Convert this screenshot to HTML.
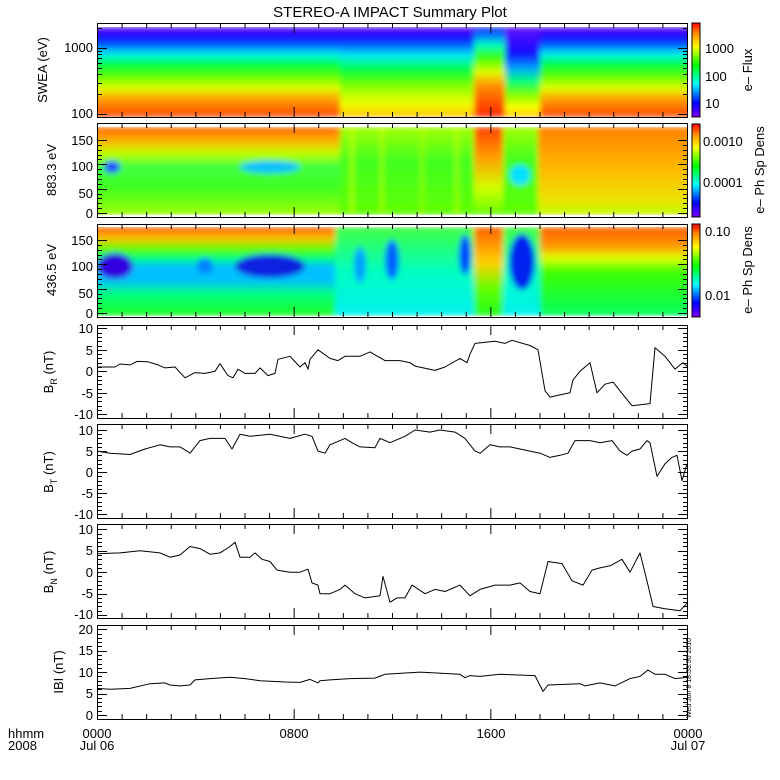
<!DOCTYPE html>
<html><head><meta charset="utf-8"><style>
html,body{margin:0;padding:0;background:#fff;}
svg{display:block;font-family:"Liberation Sans",sans-serif;}
text{font-size:13px;fill:#000;}
</style></head><body>
<svg id="s" width="780" height="780" viewBox="0 0 780 780" xmlns="http://www.w3.org/2000/svg">
<defs>
<linearGradient id="cb" x1="0" y1="1" x2="0" y2="0">
<stop offset="0" stop-color="#8000ff"/><stop offset="0.15" stop-color="#0000ff"/><stop offset="0.35" stop-color="#00ffff"/><stop offset="0.55" stop-color="#00ff00"/><stop offset="0.75" stop-color="#ffff00"/><stop offset="0.9" stop-color="#ff8000"/><stop offset="1" stop-color="#ff0000"/></linearGradient>
<linearGradient id="sw1" x1="0" y1="0" x2="0" y2="1">
<stop offset="0" stop-color="#6010ff"/><stop offset="0.12" stop-color="#1010ff"/><stop offset="0.2" stop-color="#0060ff"/><stop offset="0.3" stop-color="#00f0f0"/><stop offset="0.42" stop-color="#00ff40"/><stop offset="0.55" stop-color="#60ff00"/><stop offset="0.68" stop-color="#e0ff00"/><stop offset="0.8" stop-color="#ffa000"/><stop offset="1" stop-color="#ff4000"/></linearGradient>
<linearGradient id="sw2" x1="0" y1="0" x2="0" y2="1">
<stop offset="0" stop-color="#6010ff"/><stop offset="0.12" stop-color="#1010ff"/><stop offset="0.2" stop-color="#0060ff"/><stop offset="0.32" stop-color="#00f0f0"/><stop offset="0.48" stop-color="#00ff40"/><stop offset="0.65" stop-color="#80ff00"/><stop offset="0.85" stop-color="#f0ff00"/><stop offset="1" stop-color="#ffc000"/></linearGradient>
<linearGradient id="sw3" x1="0" y1="0" x2="0" y2="1">
<stop offset="0" stop-color="#2020ff"/><stop offset="0.1" stop-color="#0080ff"/><stop offset="0.2" stop-color="#00ffc0"/><stop offset="0.35" stop-color="#40ff00"/><stop offset="0.5" stop-color="#e0ff00"/><stop offset="0.65" stop-color="#ff9000"/><stop offset="1" stop-color="#ff2000"/></linearGradient>
<linearGradient id="sw4" x1="0" y1="0" x2="0" y2="1">
<stop offset="0" stop-color="#6010ff"/><stop offset="0.3" stop-color="#1010ff"/><stop offset="0.45" stop-color="#00a0ff"/><stop offset="0.6" stop-color="#00ff80"/><stop offset="0.75" stop-color="#80ff00"/><stop offset="0.9" stop-color="#ffff00"/><stop offset="1" stop-color="#ffc000"/></linearGradient>
<linearGradient id="p1" x1="0" y1="0" x2="0" y2="1">
<stop offset="0" stop-color="#ff6000"/><stop offset="0.15" stop-color="#ffb000"/><stop offset="0.3" stop-color="#c0ff00"/><stop offset="0.45" stop-color="#40ff40"/><stop offset="0.7" stop-color="#40ff20"/><stop offset="1" stop-color="#a0ff00"/></linearGradient>
<linearGradient id="p2" x1="0" y1="0" x2="0" y2="1">
<stop offset="0" stop-color="#a0ff00"/><stop offset="0.4" stop-color="#40ff20"/><stop offset="1" stop-color="#60ff00"/></linearGradient>
<linearGradient id="p3" x1="0" y1="0" x2="0" y2="1">
<stop offset="0" stop-color="#ff4000"/><stop offset="0.35" stop-color="#ffa000"/><stop offset="0.7" stop-color="#d0ff00"/><stop offset="1" stop-color="#60ff00"/></linearGradient>
<linearGradient id="p4" x1="0" y1="0" x2="0" y2="1">
<stop offset="0" stop-color="#ff8000"/><stop offset="0.4" stop-color="#ffb000"/><stop offset="0.8" stop-color="#f0e000"/><stop offset="1" stop-color="#c0ff00"/></linearGradient>
<linearGradient id="q1" x1="0" y1="0" x2="0" y2="1">
<stop offset="0" stop-color="#ff5000"/><stop offset="0.12" stop-color="#ffc000"/><stop offset="0.25" stop-color="#60ff00"/><stop offset="0.35" stop-color="#00ff80"/><stop offset="0.45" stop-color="#00c0ff"/><stop offset="0.6" stop-color="#00c0ff"/><stop offset="0.75" stop-color="#00ff80"/><stop offset="1" stop-color="#20ff20"/></linearGradient>
<linearGradient id="q2" x1="0" y1="0" x2="0" y2="1">
<stop offset="0" stop-color="#40ff40"/><stop offset="0.5" stop-color="#00ffc0"/><stop offset="1" stop-color="#00f0f0"/></linearGradient>
<linearGradient id="q3" x1="0" y1="0" x2="0" y2="1">
<stop offset="0" stop-color="#ff6000"/><stop offset="0.4" stop-color="#ffd000"/><stop offset="0.7" stop-color="#60ff00"/><stop offset="1" stop-color="#20ff20"/></linearGradient>
<linearGradient id="q4" x1="0" y1="0" x2="0" y2="1">
<stop offset="0" stop-color="#ff6000"/><stop offset="0.2" stop-color="#ff9000"/><stop offset="0.35" stop-color="#e0ff00"/><stop offset="0.5" stop-color="#40ff00"/><stop offset="1" stop-color="#00ff60"/></linearGradient>
<filter id="bl" x="-5%" y="-5%" width="110%" height="110%"><feGaussianBlur stdDeviation="3"/></filter>
<clipPath id="c1"><rect x="98" y="27" width="589" height="90"/></clipPath>
<clipPath id="c2"><rect x="98" y="127" width="589" height="88"/></clipPath>
<clipPath id="c3"><rect x="98" y="227" width="589" height="89"/></clipPath>
</defs>
<text x="390" y="17" text-anchor="middle" style="font-size:15px">STEREO-A IMPACT Summary Plot</text>

<g clip-path="url(#c1)"><g filter="url(#bl)">
<rect x="90" y="27" width="260" height="90" fill="url(#sw1)"/>
<rect x="340" y="27" width="135" height="90" fill="url(#sw2)"/>
<rect x="474" y="27" width="32" height="90" fill="url(#sw3)"/>
<rect x="505" y="27" width="36" height="90" fill="url(#sw4)"/>
<rect x="540" y="27" width="160" height="90" fill="url(#sw1)"/>
</g></g>
<g clip-path="url(#c2)"><g filter="url(#bl)">
<rect x="90" y="127" width="255" height="88" fill="url(#p1)"/>
<rect x="340" y="127" width="136" height="88" fill="url(#p2)"/>
<rect x="474" y="127" width="30" height="88" fill="url(#p3)"/>
<rect x="503" y="127" width="37" height="88" fill="url(#p2)"/>
<rect x="538" y="127" width="160" height="88" fill="url(#p4)"/>
<ellipse cx="112" cy="167" rx="8" ry="6" fill="#2040ff"/>
<ellipse cx="270" cy="167" rx="30" ry="6" fill="#00c0ff"/>
<ellipse cx="520" cy="175" rx="10" ry="10" fill="#00e0ff"/>
<rect x="350" y="127" width="4" height="88" fill="#e0ff00" opacity="0.6"/>
<rect x="380" y="127" width="4" height="88" fill="#e0ff00" opacity="0.5"/>
<rect x="420" y="127" width="4" height="88" fill="#c0ff00" opacity="0.5"/>
<rect x="455" y="127" width="4" height="88" fill="#e0ff00" opacity="0.5"/>
</g></g>
<g clip-path="url(#c3)"><g filter="url(#bl)">
<rect x="90" y="227" width="250" height="89" fill="url(#q1)"/>
<rect x="335" y="227" width="141" height="89" fill="url(#q2)"/>
<rect x="474" y="227" width="30" height="89" fill="url(#q3)"/>
<rect x="503" y="227" width="38" height="89" fill="url(#q2)"/>
<rect x="540" y="227" width="160" height="89" fill="url(#q4)"/>
<ellipse cx="115" cy="266" rx="18" ry="13" fill="#3000e0"/>
<ellipse cx="270" cy="266" rx="35" ry="12" fill="#1020e0"/>
<ellipse cx="205" cy="266" rx="8" ry="8" fill="#0080ff"/>
<ellipse cx="392" cy="260" rx="7" ry="20" fill="#0060ff"/>
<ellipse cx="465" cy="255" rx="6" ry="20" fill="#0040ff"/>
<ellipse cx="522" cy="262" rx="13" ry="28" fill="#0020f0"/>
<ellipse cx="360" cy="265" rx="6" ry="18" fill="#00a0ff"/>
</g></g>

<rect x="692" y="23" width="8" height="94" fill="url(#cb)" stroke="#000" stroke-width="1"/>
<rect x="692" y="124" width="8" height="93" fill="url(#cb)" stroke="#000" stroke-width="1"/>
<rect x="692" y="224" width="8" height="93" fill="url(#cb)" stroke="#000" stroke-width="1"/>
<text x="705" y="53">1000</text><text x="705" y="81">100</text><text x="705" y="108">10</text>
<text x="703" y="146">0.0010</text><text x="703" y="187">0.0001</text>
<text x="705" y="236">0.10</text><text x="705" y="300">0.01</text>
<text transform="translate(752,70) rotate(-90)" text-anchor="middle">e– Flux</text>
<text transform="translate(764,170) rotate(-90)" text-anchor="middle">e– Ph Sp Dens</text>
<text transform="translate(752,270) rotate(-90)" text-anchor="middle">e– Ph Sp Dens</text>

<text transform="translate(47,70) rotate(-90)" text-anchor="middle">SWEA (eV)</text>
<text transform="translate(56,170) rotate(-90)" text-anchor="middle">883.3 eV</text>
<text transform="translate(56,270) rotate(-90)" text-anchor="middle">436.5 eV</text>
<text transform="translate(53,372) rotate(-90)" text-anchor="middle">B<tspan dy="4" style="font-size:9px">R</tspan><tspan dy="-4"> (nT)</tspan></text>
<text transform="translate(53,472) rotate(-90)" text-anchor="middle">B<tspan dy="4" style="font-size:9px">T</tspan><tspan dy="-4"> (nT)</tspan></text>
<text transform="translate(53,572) rotate(-90)" text-anchor="middle">B<tspan dy="4" style="font-size:9px">N</tspan><tspan dy="-4"> (nT)</tspan></text>
<text transform="translate(63,672) rotate(-90)" text-anchor="middle">IBI (nT)</text>

<g text-anchor="end">
<text x="93" y="52">1000</text><text x="93" y="118">100</text>
<text x="93" y="145">150</text><text x="93" y="171">100</text><text x="93" y="198">50</text><text x="93" y="218">0</text>
<text x="93" y="245">150</text><text x="93" y="271">100</text><text x="93" y="298">50</text><text x="93" y="318">0</text>
<text x="93" y="333">10</text><text x="93" y="355">5</text><text x="93" y="376">0</text><text x="93" y="398">-5</text><text x="93" y="419">-10</text>
<text x="93" y="435">10</text><text x="93" y="456">5</text><text x="93" y="477">0</text><text x="93" y="498">-5</text><text x="93" y="519">-10</text>
<text x="93" y="534">10</text><text x="93" y="555">5</text><text x="93" y="577">0</text><text x="93" y="598">-5</text><text x="93" y="619">-10</text>
<text x="93" y="634">20</text><text x="93" y="655">15</text><text x="93" y="677">10</text><text x="93" y="698">5</text><text x="93" y="720">0</text>
</g>
<text x="8" y="738">hhmm</text><text x="8" y="750">2008</text>
<text x="97" y="738" text-anchor="middle">0000</text><text x="97" y="750" text-anchor="middle">Jul 06</text>
<text x="294" y="738" text-anchor="middle">0800</text>
<text x="491" y="738" text-anchor="middle">1600</text>
<text x="688" y="738" text-anchor="middle">0000</text><text x="688" y="750" text-anchor="middle">Jul 07</text>
<text transform="translate(691,718) rotate(-90)" style="font-size:7px">Wed Jun  8 18:53:50 2010</text>

<g fill="none" stroke="#000" stroke-width="1">
<rect x="97.5" y="23.5" width="590" height="94"/>
<rect x="97.5" y="123.5" width="590" height="94"/>
<rect x="97.5" y="224.5" width="590" height="93"/>
<rect x="97.5" y="325.5" width="590" height="93"/>
<rect x="97.5" y="424.5" width="590" height="94"/>
<rect x="97.5" y="524.5" width="590" height="94"/>
<rect x="97.5" y="625.5" width="590" height="94"/>
</g>
<g id="ticks" stroke="#000" stroke-width="1"></g>

<g fill="none" stroke="#000" stroke-width="1" stroke-linejoin="round">
<polyline id="br" points=""/>
<polyline id="bt" points=""/>
<polyline id="bn" points=""/>
<polyline id="bm" points=""/>
</g>
</svg>
<script>
(function(){
var NS="http://www.w3.org/2000/svg",T=document.getElementById('ticks');
function L(x1,y1,x2,y2){var l=document.createElementNS(NS,'line');l.setAttribute('x1',x1);l.setAttribute('y1',y1);l.setAttribute('x2',x2);l.setAttribute('y2',y2);T.appendChild(l);}
var P=[[23,117],[123,217],[224,317],[325,418],[424,518],[524,618],[625,719]];
P.forEach(function(p){for(var h=1;h<24;h++){var x=97.5+h*590/24,len=(h%8==0)?10:5;L(x,p[0],x,p[0]+len);L(x,p[1],x,p[1]-len);}});
function yt(top,bot,vmin,vmax,step,major){for(var v=vmin;v<=vmax+1e-9;v+=step){var y=bot-(v-vmin)/(vmax-vmin)*(bot-top);y=Math.round(y)+0.5;var mj=Math.abs(Math.round(v/major)*major-v)<1e-6;var len=mj?10:5;L(97,y,97+len,y);L(688,y,688-len,y);}}
yt(328.3,414.3,-10,10,1,5);yt(430,514.3,-10,10,1,5);yt(529.3,615,-10,10,1,5);yt(629.3,715,0,20,1,5);
yt(140,213,0,150,10,50);yt(240,313,0,150,10,50);
[100,200,300,400,500,600,700,800,900,1000,2000].forEach(function(v){var y=Math.round(114-(Math.log10(v)-2)*66)+0.5;if(y<24)return;var len=(v==100||v==1000)?10:5;L(97,y,97+len,y);L(688,y,688-len,y);});
function pl(id,pts,y0,k){var s=[];for(var i=0;i<pts.length;i+=2){s.push(pts[i]+','+(y0-pts[i+1]*k).toFixed(1));}document.getElementById(id).setAttribute('points',s.join(' '));}
pl('br',[97,1,115,1,120,1.7,130,1.5,137,2.3,148,2.2,158,1.5,165,0.8,175,1,185,-1.5,195,-0.3,205,-0.5,215,0,220,1.8,225,0,228,-1,233,-1.5,238,0.5,245,-0.5,255,-0.5,260,0.8,268,-1,275,-0.5,278,2.8,290,3.5,300,1,305,2,308,0.5,310,2.8,318,5,330,3,338,2.5,345,3.5,360,3.5,370,4.5,385,2.5,400,2.5,410,2,415,1.2,435,0.2,445,1,460,3,467,2,470,4,475,6.5,495,7,505,6.5,512,7.2,530,6,538,5,545,-4.5,550,-6,560,-5.5,570,-5,573,-2,580,0,590,2,597,-5,605,-3,613,-2.5,625,-6,632,-8,650,-7.5,655,5.5,665,3.5,675,0.5,680,1.5,683,2,688,1],371.3,4.3);
pl('bt',[97,5,110,4.5,130,4.2,145,5.5,160,6.5,170,6,180,6,187,5,190,4.5,200,7.5,210,8,225,8,232,5.5,240,9,250,8.5,270,9,290,8,305,9,312,8.5,318,5,325,4.5,330,6.5,345,8,352,7,360,6,375,5.8,380,8,390,7,405,8.5,415,10,430,9.5,440,10,455,9.5,465,8,475,5,480,4.5,490,6.5,500,6,510,6,520,5.5,530,5,540,4.5,550,3.5,560,4,568,4.5,575,7.5,590,7.5,600,7,612,7.5,620,5,627,4,632,5,640,5.5,647,7.5,650,7,657,-1,665,2,672,3.5,677,4,682,-2,687,2],472.2,4.22);
pl('bn',[97,4.3,120,4.5,140,5,160,4.5,165,4,170,3.5,180,4,190,6,200,5.5,210,4.2,220,4.5,230,6,235,7,240,3.5,250,3.5,255,4.5,262,3,270,2.5,277,0.5,290,0,300,0,308,0.7,312,-2.5,318,-3,320,-5,330,-5,340,-4,345,-3,355,-5,365,-6,380,-5.5,383,-1,390,-7,397,-6,405,-6,412,-3,425,-5,435,-4,445,-4.5,460,-3,470,-5.5,480,-4,495,-3,510,-3,520,-2.5,530,-4.5,540,-5,548,2.5,562,2,572,-2,583,-3,592,0.5,600,1,610,1.5,622,3,630,0,640,4.5,648,-3,653,-8,665,-8.5,680,-9,688,-7],572.2,4.29);
pl('bm',[97,6.2,110,6,130,6.2,150,7.3,165,7.5,170,7,180,6.8,190,7,195,8.2,210,8.5,230,8.8,245,8.5,260,8,285,7.7,300,7.6,310,8.3,318,7.5,320,8,330,8.2,350,8.5,375,8.6,385,9.5,420,10,460,9.5,465,8.7,470,9.2,480,9,500,9.5,535,9.2,543,5.5,548,7,580,7.3,585,6.8,600,7.5,615,6.8,630,8.5,640,9,648,10.5,655,9.5,665,9.5,675,8.5,688,8.8],715,4.285);
})();
</script>
</body></html>
